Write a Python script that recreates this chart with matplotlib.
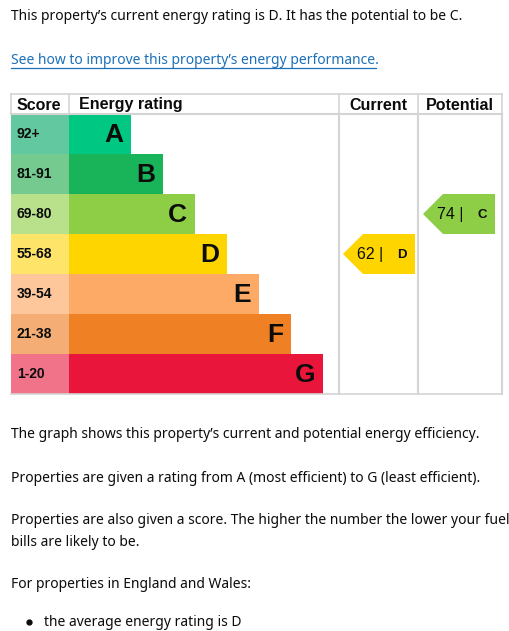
import matplotlib.pyplot as plt
from matplotlib.patches import Rectangle, Polygon

bands = ["A", "B", "C", "D", "E", "F", "G"]
score_ranges = ["92+", "81-91", "69-80", "55-68", "39-54", "21-38", "1-20"]
band_colors = ["#00c781", "#19b459", "#8dce46", "#ffd500", "#fcaa65", "#ef8023", "#e9153b"]
score_colors = ["#62c89f", "#74ca8f", "#b9e18b", "#ffe46a", "#fec69b", "#f4ad74", "#f0738a"]
current_score, current_band = 62, "D"
potential_score, potential_band = 74, "C"

TXT = "#0b0c0c"
body_font = ["Noto Sans", "DejaVu Sans"]
chart_font = ["Liberation Sans", "DejaVu Sans"]

fig = plt.figure(figsize=(5.10, 6.31), dpi=100)
ax = fig.add_axes([0, 0, 1, 1])
ax.set_xlim(0, 510)
ax.set_ylim(631, 0)
ax.axis("off")

ax.text(11, 16, "This property\u2019s current energy rating is D. It has the potential to be C.",
        fontsize=10, family=body_font, color=TXT, va="center")
link = ax.text(11, 60, "See how to improve this property\u2019s energy performance.",
               fontsize=10, family=body_font, color="#1d70b8", va="center")
ax.plot([11, 376], [68, 68], color="#1d70b8", lw=0.9)

# table geometry
left, score_w, top, head_h, row_h = 11, 58, 94, 20, 40
cur_x0, pot_x0, right = 339, 418, 502
bottom = top + head_h + row_h * len(bands)
grid = "#d4d4d4"

ax.plot([left, right], [top, top], color=grid, lw=1.2)
ax.plot([left, right], [top + head_h, top + head_h], color=grid, lw=1.5)
ax.plot([left, right], [bottom, bottom], color=grid, lw=1.2)
for x in [left, left + score_w, cur_x0, pot_x0, right]:
    ax.plot([x, x], [top, top + head_h], color=grid, lw=1.2)
for x in [cur_x0, pot_x0, right]:
    ax.plot([x, x], [top + head_h, bottom], color=grid, lw=1.5)

hdr = dict(fontsize=11.5, family=chart_font, fontweight="bold", color=TXT, va="center")
ax.text(left + 6, top + head_h / 2 + 1, "Score", **hdr)
ax.text(left + score_w + 10, top + head_h / 2 + 1, "Energy rating", **hdr)
ax.text((cur_x0 + pot_x0) / 2, top + head_h / 2 + 1, "Current", ha="center", **hdr)
ax.text((pot_x0 + right) / 2, top + head_h / 2 + 1, "Potential", ha="center", **hdr)

bar_x0 = left + score_w
for i, (b, rng) in enumerate(zip(bands, score_ranges)):
    y0 = top + head_h + i * row_h
    bar_w = 62 + 32 * i
    ax.add_patch(Rectangle((left, y0), score_w, row_h, color=score_colors[i], lw=0))
    ax.add_patch(Rectangle((bar_x0, y0), bar_w, row_h, color=band_colors[i], lw=0))
    ax.text(left + 6, y0 + row_h / 2, rng, fontsize=10, family=chart_font,
            fontweight="bold", color=TXT, va="center")
    ax.text(bar_x0 + bar_w - 8, y0 + row_h / 2 + 1, b, fontsize=19, family=chart_font,
            fontweight="bold", color=TXT, va="center", ha="right")


def arrow(x0, x1, band, score):
    i = bands.index(band)
    y0 = top + head_h + i * row_h
    ym = y0 + row_h / 2
    pts = [(x0, ym), (x0 + 20, y0), (x1, y0), (x1, y0 + row_h), (x0 + 20, y0 + row_h)]
    ax.add_patch(Polygon(pts, closed=True, color=band_colors[i], lw=0))
    ax.text(x0 + 14, ym + 1, f"{score} |", fontsize=11.5, family=chart_font,
            color=TXT, va="center")
    ax.text(x1 - 13, ym + 1, band, fontsize=9.5, family=chart_font,
            fontweight="bold", color=TXT, va="center", ha="center")


arrow(cur_x0 + 4, cur_x0 + 76, current_band, current_score)
arrow(pot_x0 + 5, pot_x0 + 77, potential_band, potential_score)

paras = [
    (435, "The graph shows this property\u2019s current and potential energy efficiency."),
    (478, "Properties are given a rating from A (most efficient) to G (least efficient)."),
    (521, "Properties are also given a score. The higher the number the lower your fuel"),
    (542, "bills are likely to be."),
    (585, "For properties in England and Wales:"),
    (622, "the average energy rating is D"),
]
for y, t in paras:
    x = 44 if t.startswith("the average") else 11
    ax.text(x, y, t, fontsize=10, family=body_font, color=TXT, va="center")
ax.plot([29], [622], "o", color=TXT, ms=3.5)

fig.savefig("out.png", dpi=100)
